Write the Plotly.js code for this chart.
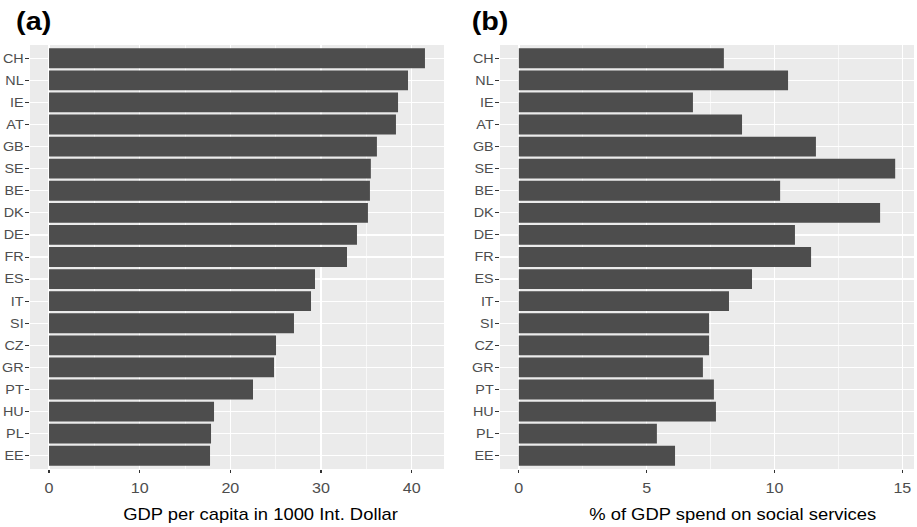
<!DOCTYPE html>
<html><head><meta charset="utf-8">
<script src="https://cdn.plot.ly/plotly-3.0.1.min.js"></script>
<style>
html,body{margin:0;padding:0;background:#fff;overflow:hidden}
#wrap{width:917px;height:527px;overflow:hidden}
#chart{width:797px;height:527px;transform:scaleX(1.150565);transform-origin:0 0}
</style></head><body><div id="wrap"><div id="chart"></div></div>
<script>
const countries = ["CH","NL","IE","AT","GB","SE","BE","DK","DE","FR","ES","IT","SI","CZ","GR","PT","HU","PL","EE"];
const gdpPerCapita = [41.47,39.6,38.5,38.27,36.17,35.5,35.4,35.18,33.97,32.87,29.34,28.9,27.02,25.04,24.82,22.5,18.2,17.87,17.76];
const socialSpending = [8.02,10.53,6.81,8.73,11.62,14.72,10.22,14.13,10.8,11.43,9.12,8.22,7.44,7.44,7.2,7.63,7.71,5.4,6.11];
const ticksA = [0,10,20,30,40];
const minorA = [5,15,25,35];
const ticksB = [0,5,10,15];
const minorB = [2.5,7.5,12.5];
const panelLabels = ["(a)","(b)"];
const xTitles = ["GDP per capita in 1000 Int. Dollar","% of GDP spend on social services"];

const FONT = "Liberation Sans, Arial, Helvetica, sans-serif";
const BAR = "#4D4D4D";

const traces = [
  {type:"bar", orientation:"h", y:countries, x:gdpPerCapita, width:0.9, marker:{color:BAR}, xaxis:"x", yaxis:"y", hoverinfo:"x+y"},
  {type:"bar", orientation:"h", y:countries, x:socialSpending, width:0.9, marker:{color:BAR}, xaxis:"x2", yaxis:"y2", hoverinfo:"x+y"}
];

function xax(domain, range, ticks, minor, anchor){
  return {domain:domain, range:range, anchor:anchor, tickmode:"array", tickvals:ticks,
    ticks:"outside", ticklen:3, tickwidth:1, tickcolor:"#333333", ticklabelstandoff:3,
    tickfont:{family:FONT, size:14, color:"#4D4D4D"},
    showgrid:true, gridcolor:"#FFFFFF", gridwidth:1.2, zeroline:false, showline:false,
    minor:{tickmode:"array", tickvals:minor, showgrid:true, gridcolor:"#FFFFFF", gridwidth:0.6, ticks:""}};
}
function yax(anchor){
  return {domain:[58/527, 482/527], anchor:anchor, type:"category", categoryorder:"array", categoryarray:countries,
    range:[countries.length-0.4, -0.6],
    ticks:"outside", ticklen:3, tickwidth:1, tickcolor:"#333333", ticklabelstandoff:-1,
    tickfont:{family:FONT, size:12.5, color:"#4D4D4D"},
    showgrid:true, gridcolor:"#FFFFFF", gridwidth:1.2, zeroline:false, showline:false};
}

const layout = {
  width:797, height:527, margin:{l:0,r:0,t:0,b:0}, showlegend:false,
  paper_bgcolor:"#FFFFFF", plot_bgcolor:"#EBEBEB", font:{family:FONT},
  xaxis: xax([30/917, 444/917], [-2.1, 43.57], ticksA, minorA, "y"),
  yaxis: yax("x"),
  xaxis2: xax([500/917, 914/917], [-0.736, 15.456], ticksB, minorB, "y2"),
  yaxis2: yax("x2"),
  annotations:[
    {text:"<b>"+panelLabels[0]+"</b>", xref:"paper", yref:"paper", x:33.5/917, y:(527-21.5)/527, xanchor:"center", yanchor:"middle", showarrow:false, font:{family:FONT, size:25, color:"#000"}},
    {text:"<b>"+panelLabels[1]+"</b>", xref:"paper", yref:"paper", x:490/917, y:(527-21.5)/527, xanchor:"center", yanchor:"middle", showarrow:false, font:{family:FONT, size:25, color:"#000"}},
    {text:xTitles[0], xref:"paper", yref:"paper", x:261/917, y:(527-514)/527, xanchor:"center", yanchor:"middle", showarrow:false, font:{family:FONT, size:16, color:"#000"}},
    {text:xTitles[1], xref:"paper", yref:"paper", x:733/917, y:(527-514)/527, xanchor:"center", yanchor:"middle", showarrow:false, font:{family:FONT, size:16, color:"#000"}}
  ]
};
Plotly.newPlot("chart", traces, layout, {displayModeBar:false, staticPlot:true});
</script></body></html>
